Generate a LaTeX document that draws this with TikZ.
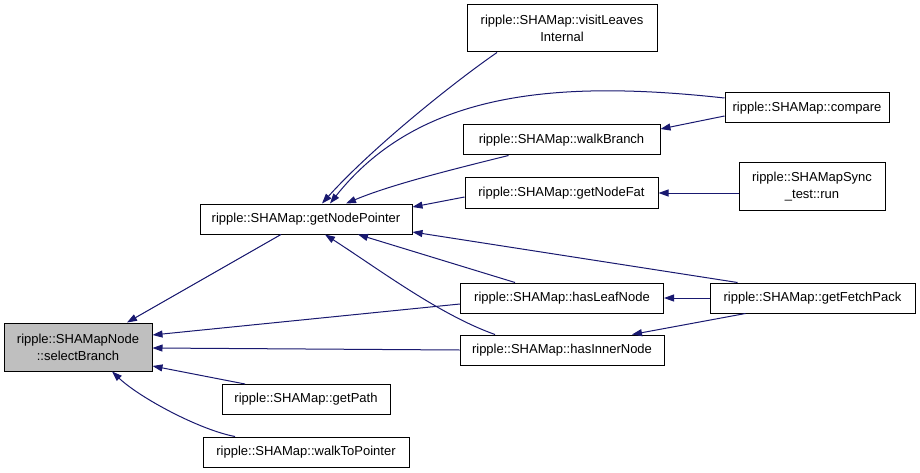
\documentclass[tikz,border=0pt]{standalone}
\usepackage{fontspec}
\setmainfont{Liberation Sans}
\usetikzlibrary{arrows.meta,calc}
\definecolor{edgec}{HTML}{191970}
\definecolor{selfill}{HTML}{BFBFBF}
\begin{document}
\begin{tikzpicture}[x=1pt,y=-1pt,
  box/.style={draw=black, line width=1pt, fill=white, inner sep=0pt, align=center,
    font=\fontsize{13}{17}\selectfont, minimum height=30pt},
  edge/.style={draw=edgec, line width=1pt, -{Triangle[length=10pt,width=7pt]}}]
\fill[white] (0,0) rectangle (920,473);
\useasboundingbox (0,0) rectangle (920,473);

\node[box, fill=selfill, minimum width=148pt, minimum height=48pt] (sb) at (78,347) {ripple::SHAMapNode\\::selectBranch};
\node[box, minimum width=212pt] (gnp) at (306,219) {ripple::SHAMap::getNodePointer};
\node[box, minimum width=168pt] (gp) at (306,399.5) {ripple::SHAMap::getPath};
\node[box, minimum width=206pt] (wtp) at (306,452) {ripple::SHAMap::walkToPointer};
\node[box, minimum width=190pt, minimum height=47pt] (vli) at (562,28.5) {ripple::SHAMap::visitLeaves\\Internal};
\node[box, minimum width=197pt] (wb) at (561.5,140) {ripple::SHAMap::walkBranch};
\node[box, minimum width=193pt] (gnf) at (561.5,193) {ripple::SHAMap::getNodeFat};
\node[box, minimum width=203pt] (hlf) at (562,298) {ripple::SHAMap::hasLeafNode};
\node[box, minimum width=204pt] (hin) at (562,350) {ripple::SHAMap::hasInnerNode};
\node[box, minimum width=164pt] (cmp) at (807,108) {ripple::SHAMap::compare};
\node[box, minimum width=146pt, minimum height=47pt] (sync) at (812,186.5) {ripple::SHAMapSync\\\_test::run};
\node[box, minimum width=205pt] (gfp) at (812.5,298) {ripple::SHAMap::getFetchPack};

% edges into selectBranch
\draw[edge] ($(gnp.south)+(-25,0)$) -- ($(sb.north)+(49,0)$);
\draw[edge] ($(hlf.west)+(0,6)$) -- ($(sb.east)+(0,-12)$);
\draw[edge] (hin.west) -- ($(sb.east)+(0,1)$);
\draw[edge] ($(gp.north)+(-61,0)$) -- ($(sb.east)+(0,19)$);
\draw[edge] ($(wtp.north)+(-71,0)$) .. controls (200,430) and (140,398) .. ($(sb.south)+(34,0)$);

% edges into getNodePointer
\draw[edge] ($(vli.south)+(-65,0)$) .. controls (450,85) and (370,150) .. ($(gnp.north)+(16,0)$);
\draw[edge] ($(cmp.west)+(0,-10)$) .. controls (560,80) and (420,90) .. ($(gnp.north)+(24,0)$);
\draw[edge] ($(wb.south)+(-53,0)$) .. controls (450,170) and (390,185) .. ($(gnp.north)+(40,0)$);
\draw[edge] ($(gnf.west)+(0,4)$) -- ($(gnp.east)+(0,-12)$);
\draw[edge] ($(gfp.north)+(-75,0)$) -- ($(gnp.east)+(0,13)$);
\draw[edge] ($(hlf.north)+(-47,0)$) -- ($(gnp.south)+(52,0)$);
\draw[edge] ($(hin.north)+(-67,0)$) .. controls (440,315) and (380,270) .. ($(gnp.south)+(19,0)$);

% right column
\draw[edge] ($(cmp.west)+(0,8)$) -- ($(wb.east)+(0,-11)$);
\draw[edge] ($(sync.west)+(0,6.5)$) -- (gnf.east);
\draw[edge] (gfp.west) -- (hlf.east);
\draw[edge] ($(gfp.south)+(-67,0)$) -- ($(hin.north)+(70,0)$);
\end{tikzpicture}
\end{document}
